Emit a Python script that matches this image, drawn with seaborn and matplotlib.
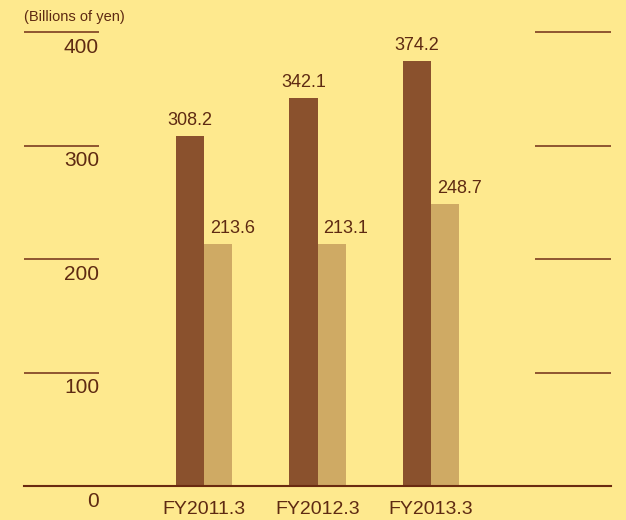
import matplotlib
matplotlib.use("Agg")
import matplotlib.pyplot as plt
import seaborn as sns
import pandas as pd
from matplotlib.transforms import offset_copy

categories = ["FY2011.3", "FY2012.3", "FY2013.3"]
series_a = [308.2, 342.1, 374.2]
series_b = [213.6, 213.1, 248.7]
series_names = ["A", "B"]
y_ticks = [0, 100, 200, 300, 400]
unit_label = "(Billions of yen)"

BG = "#FEE98E"
DARK = "#8A512D"
LIGHT = "#CFAA64"
TEXT = "#5E2A12"
LINE = "#8E5530"

sns.set_theme(style="white")
plt.rcParams["font.family"] = ["Liberation Sans", "DejaVu Sans"]

df = pd.DataFrame({
    "cat": categories * 2,
    "val": series_a + series_b,
    "series": [series_names[0]] * 3 + [series_names[1]] * 3,
})

fig = plt.figure(figsize=(6.26, 5.20), dpi=100, facecolor=BG)
ax = fig.add_axes([24 / 626, (520 - 486) / 520, 587 / 626, 454 / 520])
ax.set_facecolor(BG)

sns.barplot(data=df, x="cat", y="val", hue="series", order=categories,
            hue_order=series_names, palette=[DARK, LIGHT], width=0.5,
            saturation=1, ax=ax, legend=False, linewidth=0, edgecolor="none")

for i, c in enumerate(ax.containers):
    for p in c.patches:
        h = p.get_height()
        x = p.get_x() + p.get_width() * (0.5 if i == 0 else 1.0)
        ax.annotate(f"{h:.1f}", (x, h), xytext=(0, 5), textcoords="offset points",
                    ha="center", va="bottom", fontsize=13, color=TEXT)

ax.set_xlim(-1.586, 3.586)
ax.set_ylim(0, 400)
ax.set_xlabel("")
ax.set_ylabel("")
ax.set_yticks([])
for s in ["top", "right", "left"]:
    ax.spines[s].set_visible(False)
ax.spines["bottom"].set_color("#6A2A10")
ax.spines["bottom"].set_linewidth(1.5)
ax.tick_params(axis="x", length=0, pad=11, labelsize=14, labelcolor=TEXT)

ytr = ax.get_yaxis_transform()
left_end = (99 - 24) / 587
right_start = (535 - 24) / 587
for t in y_ticks:
    if t > 0:
        ax.hlines(t, 0, left_end, transform=ytr, color=LINE, lw=1.4, clip_on=False)
        ax.hlines(t, right_start, 1, transform=ytr, color=LINE, lw=1.4, clip_on=False)
    tr = offset_copy(ytr, fig=fig, x=0, y=-4, units="points")
    ax.text(left_end, t, str(t), transform=tr, ha="right", va="top",
            fontsize=15, color=TEXT, clip_on=False)

ax.text(0, 1, unit_label, transform=offset_copy(ax.transAxes, fig=fig, y=6, units="points"),
        ha="left", va="bottom", fontsize=10.5, color=TEXT)

fig.savefig("out.png", dpi=100, facecolor=BG)
